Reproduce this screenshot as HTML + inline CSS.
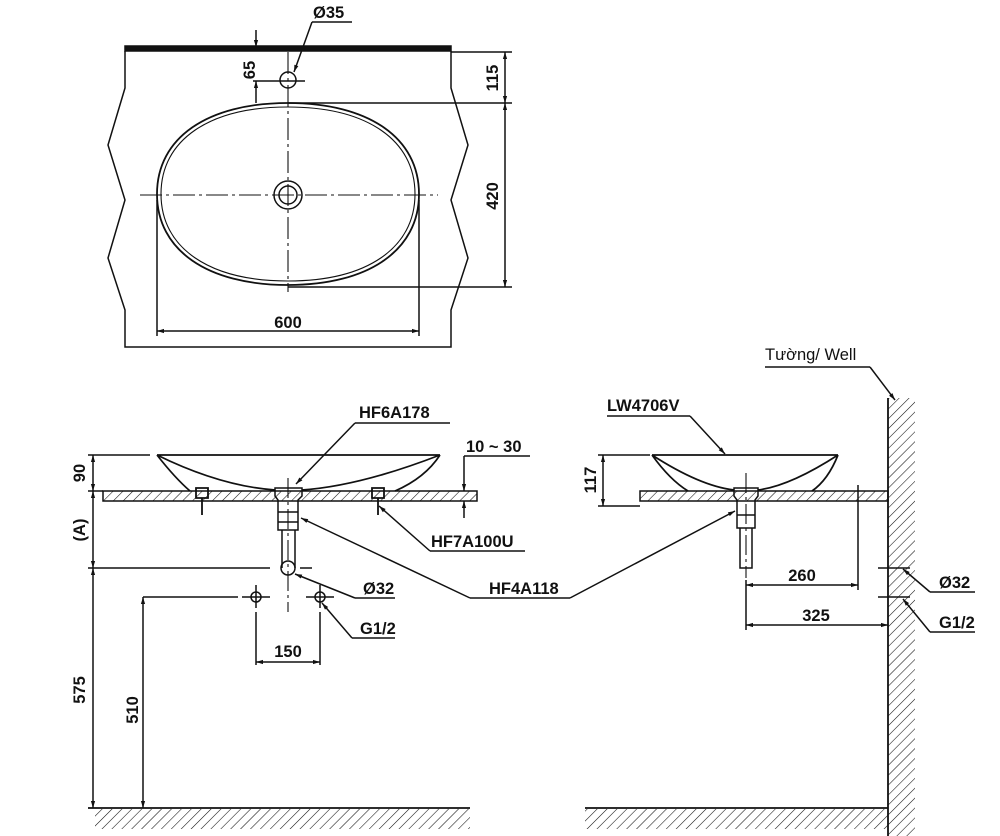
<!DOCTYPE html>
<html><head><meta charset="utf-8"><style>html,body{margin:0;padding:0;background:#fff}svg{display:block}text{font-family:"Liberation Sans",sans-serif;font-weight:bold;font-size:16.5px;fill:#111}</style></head>
<body>
<svg width="1000" height="836" viewBox="0 0 1000 836" xmlns="http://www.w3.org/2000/svg">
<defs>
<pattern id="h" width="7" height="7" patternUnits="userSpaceOnUse" patternTransform="rotate(45)"><line x1="0" y1="0" x2="0" y2="7" stroke="#111" stroke-width="1.1"/></pattern>
<marker id="a" viewBox="0 0 10 10" refX="10" refY="5" markerWidth="10" markerHeight="7" orient="auto-start-reverse" markerUnits="userSpaceOnUse"><path d="M0,2 L10,5 L0,8 z" fill="#111"/></marker>
</defs>
<g stroke="#111" stroke-width="1.5" fill="none">
<rect x="125" y="46" width="326" height="5" fill="#111"/>
<path d="M125,51 V88 L108,145 L125,200 L108,258 L125,310 V347 H451 V310 L468,258 L451,200 L468,145 L451,88 V51"/>
<path d="M157,194 C157,138 207,103 288,103 C369,103 419,138 419,194 C419,250 369,285 288,285 C207,285 157,250 157,194 Z" stroke-width="1.8"/>
<path d="M161,194 C161,140 209,107 288,107 C367,107 415,140 415,194 C415,248 367,281 288,281 C209,281 161,248 161,194 Z" stroke-width="1.1"/>
<circle cx="288" cy="195" r="14"/><circle cx="288" cy="195" r="9"/>
<path d="M140,195 H438 M288,52 V292" stroke-dasharray="22,4,3,4" stroke-width="1.1"/>
<circle cx="288" cy="80" r="8"/>
<path d="M253,81 H305"/>
<path d="M256,30 V47" marker-end="url(#a)"/>
<path d="M256,81 V103" marker-start="url(#a)"/>
<path d="M312,22 H352"/><path d="M312,22 L294,72" marker-end="url(#a)"/>
<path d="M451,52 H512 M288,103 H512 M288,287 H512"/>
<path d="M505,52 V103" marker-start="url(#a)" marker-end="url(#a)"/>
<path d="M505,103 V287" marker-start="url(#a)" marker-end="url(#a)"/>
<path d="M157,200 V336 M419,200 V336"/>
<path d="M157,331 H419" marker-start="url(#a)" marker-end="url(#a)"/>
<rect x="103" y="491" width="374" height="10" fill="url(#h)"/>
<path d="M157,455 H440 M157,455 Q175,478 190,491 M440,455 Q425,478 395,491 M157,455 Q220,486 275,490 M440,455 Q360,486 302,490" stroke-width="1.7"/>
<path d="M275,488 H302 V496 L298,500 V530 H278 V500 L275,496 Z"/>
<path d="M278,512 H298 M278,522 H298"/>
<path d="M282,530 V568 M295,530 V568"/>
<circle cx="288" cy="568" r="7"/>
<path d="M288,478 V612" stroke-dasharray="20,4,3,4" stroke-width="1.1"/>
<path d="M196,488 H208 V498 H196 Z M202,498 V515 M372,488 H384 V498 H372 Z M378,498 V515" stroke-width="1.8"/>
<path d="M88,455 H150 M88,491 H103 M88,568 H270 M300,568 H312"/>
<path d="M93,455 V491" marker-start="url(#a)" marker-end="url(#a)"/>
<path d="M93,491 V568" marker-start="url(#a)" marker-end="url(#a)"/>
<path d="M93,568 V808" marker-start="url(#a)" marker-end="url(#a)"/>
<path d="M143,597 H238"/><path d="M143,597 V808" marker-start="url(#a)" marker-end="url(#a)"/>
<circle cx="256" cy="597" r="5"/><circle cx="320" cy="597" r="5"/>
<path d="M242,597 H270 M256,585 V608 M306,597 H334 M320,585 V608"/>
<path d="M256,612 V665 M320,612 V665"/>
<path d="M256,662 H320" marker-start="url(#a)" marker-end="url(#a)"/>
<path d="M355,598 H395 M352,638 H395"/>
<path d="M355,598 L295,574" marker-end="url(#a)"/>
<path d="M352,638 L322,603" marker-end="url(#a)"/>
<path d="M355,423 H450"/><path d="M355,423 L296,484" marker-end="url(#a)"/>
<path d="M464,456 H530"/><path d="M464,456 V491" marker-end="url(#a)"/><path d="M464,518 V501" marker-end="url(#a)"/>
<path d="M430,551 H525"/><path d="M430,551 L379,506" marker-end="url(#a)"/>
<path d="M470,598 H570"/><path d="M470,598 L301,518" marker-end="url(#a)"/><path d="M570,598 L735,511" marker-end="url(#a)"/>
<path d="M88,808 H470 M585,808 H888" stroke-width="1.8"/>
<rect x="95" y="809" width="375" height="20" fill="url(#h)" stroke="none"/>
<rect x="585" y="809" width="303" height="20" fill="url(#h)" stroke="none"/>
<rect x="640" y="491" width="248" height="10" fill="url(#h)"/>
<rect x="888" y="398" width="27" height="438" fill="url(#h)" stroke="none"/>
<path d="M888,398 V836" stroke-width="1.8"/>
<path d="M652,455 H838 M652,455 Q670,480 688,491 M838,455 Q828,480 812,491 M652,455 Q700,486 734,490 M838,455 Q790,486 758,490" stroke-width="1.7"/>
<path d="M734,488 H758 V496 L755,500 V528 H737 V500 L734,496 Z M737,515 H755"/>
<path d="M740,528 V568 H752 V528"/>
<path d="M746,473 V578" stroke-dasharray="20,4,3,4" stroke-width="1.1"/>
<path d="M598,455 H650 M598,506 H640"/>
<path d="M603,455 V506" marker-start="url(#a)" marker-end="url(#a)"/>
<path d="M858,485 V590 M746,580 V630"/>
<path d="M746,585 H858" marker-start="url(#a)" marker-end="url(#a)"/>
<path d="M746,625 H888" marker-start="url(#a)" marker-end="url(#a)"/>
<path d="M878,568 H910 M878,597 H910"/>
<path d="M930,592 H975 M930,632 H975"/>
<path d="M930,592 L903,569" marker-end="url(#a)"/>
<path d="M930,632 L903,599" marker-end="url(#a)"/>
<path d="M765,367 H870"/><path d="M870,367 L895,400" marker-end="url(#a)"/>
<path d="M607,416 H690"/><path d="M690,416 L725,454" marker-end="url(#a)"/>
</g>
<text x="313" y="18">Ø35</text>
<text x="250" y="70" transform="rotate(-90 250 70)" text-anchor="middle" dy="5">65</text>
<text x="493" y="78" transform="rotate(-90 493 78)" text-anchor="middle" dy="5">115</text>
<text x="493" y="196" transform="rotate(-90 493 196)" text-anchor="middle" dy="5">420</text>
<text x="288" y="328" text-anchor="middle">600</text>
<text x="359" y="418">HF6A178</text>
<text x="466" y="452">10 ~ 30</text>
<text x="431" y="547">HF7A100U</text>
<text x="489" y="594">HF4A118</text>
<text x="363" y="594">Ø32</text>
<text x="360" y="634">G1/2</text>
<text x="288" y="657" text-anchor="middle">150</text>
<text x="80" y="473" transform="rotate(-90 80 473)" text-anchor="middle" dy="5">90</text>
<text x="80" y="530" transform="rotate(-90 80 530)" text-anchor="middle" dy="5">(A)</text>
<text x="80" y="690" transform="rotate(-90 80 690)" text-anchor="middle" dy="5">575</text>
<text x="133" y="710" transform="rotate(-90 133 710)" text-anchor="middle" dy="5">510</text>
<text x="765" y="360" style="font-weight:normal">Tường/ Well</text>
<text x="607" y="411">LW4706V</text>
<text x="591" y="480" transform="rotate(-90 591 480)" text-anchor="middle" dy="5">117</text>
<text x="802" y="581" text-anchor="middle">260</text>
<text x="816" y="621" text-anchor="middle">325</text>
<text x="939" y="588">Ø32</text>
<text x="939" y="628">G1/2</text>
</svg>
</body></html>
